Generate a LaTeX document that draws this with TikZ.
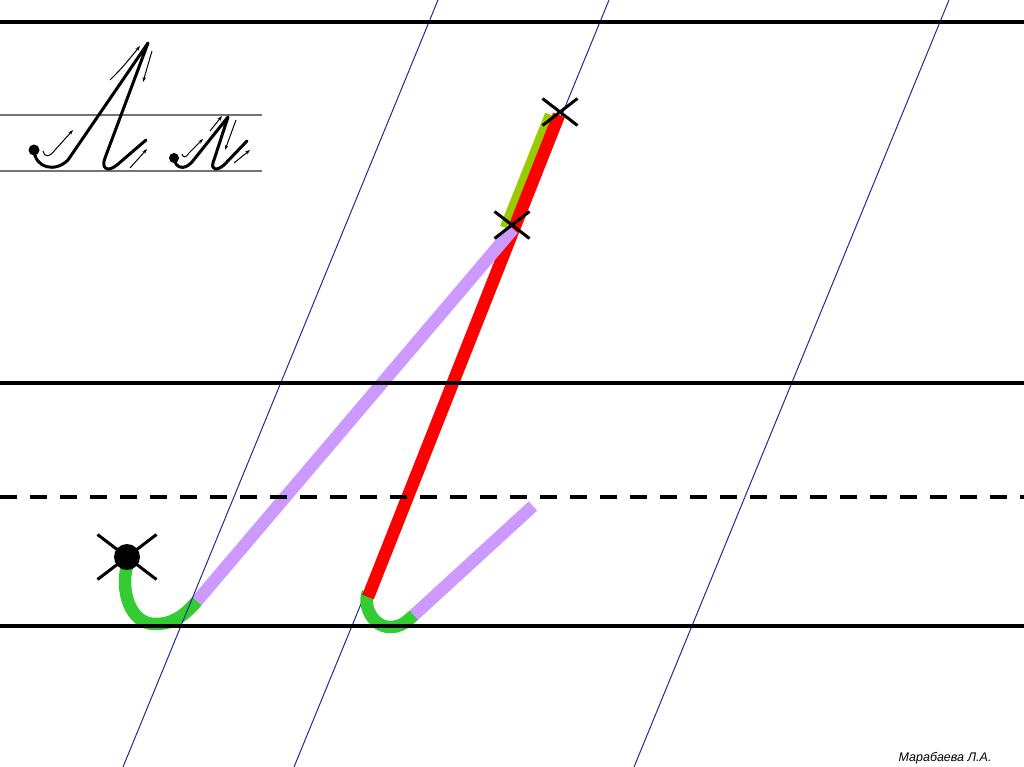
\documentclass[tikz,border=0pt]{standalone}
\usepackage{fontspec}
\newfontfamily\autorfont{Liberation Sans}
\usetikzlibrary{arrows.meta, shapes.misc}

\definecolor{rojo}{RGB}{255,0,0}
\definecolor{lila}{RGB}{204,153,255}
\definecolor{verde}{RGB}{51,204,51}
\definecolor{oliva}{RGB}{153,204,0}
\definecolor{azul}{RGB}{40,40,150}

\tikzset{
  renglon/.style={line width=4.5pt, black},
  oblicua/.style={azul, line width=1pt},
  trazo/.style={line width=12.5pt},
  pluma/.style={line width=3pt, line cap=round, line join=round},
  flechita/.style={line width=1pt, -{Stealth[length=5pt, width=3.5pt]}},
  cruz/.style={cross out, draw, line width=3pt, inner sep=0pt, minimum width=32pt, minimum height=24pt},
}

\begin{document}
\begin{tikzpicture}[x=1pt, y=-1pt]
    \useasboundingbox (0,0) rectangle (1024,767);
    \fill[white] (0,0) rectangle (1024,767);

    % Muestra (arriba a la izquierda)
    \draw[black!55, line width=1.5pt] (0,115) -- (262,115);
    \draw[black!55, line width=1.5pt] (0,171) -- (262,171);

    % Letra grande
    \fill (34,150) circle (5.5);
    \draw[pluma] (34,150) .. controls (35,168) and (55,173) .. (68,160) -- (148,43)
        -- (105,158) .. controls (101,168) and (107,173) .. (117,165) -- (146,140);
    \draw[flechita] (43,151) .. controls (44,157) and (49,158) .. (55,150) -- (73,130);
    \draw[flechita] (110,80) .. controls (122,68) .. (140,46);
    \draw[flechita] (152,51) -- (143,82);
    \draw[flechita] (130,168) -- (147,149);

    % Letra pequena
    \fill (174,158) circle (5);
    \draw[pluma] (174,158) .. controls (175,168) and (184,171) .. (192,162) -- (228,117)
        -- (213,163) .. controls (211,170) and (217,171) .. (224,165) -- (247,141);
    \draw[flechita] (182,154) .. controls (183,158) and (186,158) .. (189,153) -- (203,139);
    \draw[flechita] (210,131) -- (222,116);
    \draw[flechita] (236,120) -- (225,150);
    \draw[flechita] (234,163) -- (250,150);

    % Lineas oblicuas
    \foreach \x in {609, 949} {
        \draw[oblicua] (\x,0) -- (\x-315,767);
    }

    % Trazo derecho
    \coordinate (r1) at (368,597);
    \coordinate (r2) at (559,115);
    \coordinate (o1) at (506,228);
    \coordinate (o2) at (551,115);
    \coordinate (c1) at (414,615);
    \coordinate (c2) at (533,506);
    \draw[trazo, verde] (368,592) to[out=250, in=180] (390,627) to[out=0, in=222] (c1);
    \draw[trazo, oliva] (o1) -- (o2);
    \draw[trazo, rojo] (r1) -- (r2);
    \draw[trazo, lila] (c1) -- (c2);

    % Trazo izquierdo
    \coordinate (l1) at (197,601);
    \coordinate (l2) at (513,229);
    \draw[trazo, verde] (127,566) to[out=255, in=180] (155,624) to[out=0, in=229] (l1);
    \draw[trazo, lila] (l1) -- (l2);

    \draw[oblicua] (438,0) -- (123,767);

    % Renglones
    \draw[renglon] (0,22) -- (1024,22);
    \draw[renglon] (0,383) -- (1024,383);
    \draw[renglon, dash pattern=on 17pt off 13pt] (0,497) -- (1024,497);
    \draw[renglon] (0,626) -- (1024,626);

    % Cruces
    \node[cruz] (k1) at (560,112) {};
    \node[cruz] (k2) at (512,225) {};
    \node[cruz, minimum width=56pt, minimum height=42pt] (k3) at (127,557) {};
    \node[circle, fill, inner sep=0pt, minimum size=26pt] (punto) at (k3) {};

    % Autor
    \node[anchor=base east, font=\autorfont\itshape\fontsize{12.5}{14}\selectfont] (autor) at (995,761) {Марабаева Л.А.};

\end{tikzpicture}
\end{document}
